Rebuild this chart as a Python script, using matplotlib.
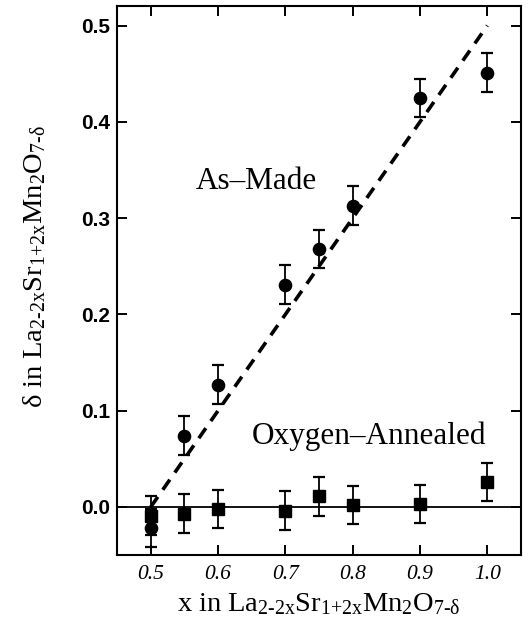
import matplotlib
matplotlib.use("Agg")
import matplotlib.pyplot as plt

plt.rcParams['mathtext.fontset'] = 'custom'
plt.rcParams['mathtext.rm'] = 'Liberation Serif'
plt.rcParams['mathtext.it'] = 'Liberation Serif:italic'
plt.rcParams['mathtext.bf'] = 'Liberation Serif:bold'

# Oxygen deficiency delta versus Sr content x
x_made = [0.50, 0.55, 0.60, 0.70, 0.75, 0.80, 0.90, 1.00]
d_made = [-0.022, 0.074, 0.127, 0.231, 0.268, 0.313, 0.425, 0.451]
e_made = [0.02, 0.02, 0.02, 0.02, 0.02, 0.02, 0.02, 0.02]

x_ann = [0.50, 0.55, 0.60, 0.70, 0.75, 0.80, 0.90, 1.00]
d_ann = [-0.009, -0.007, -0.002, -0.004, 0.011, 0.002, 0.003, 0.026]
e_ann = [0.02, 0.02, 0.02, 0.02, 0.02, 0.02, 0.02, 0.02]

# guide line delta = x - 0.5
fit_x = [0.5, 1.0]
fit_y = [0.0, 0.5]

xticks = [0.5, 0.6, 0.7, 0.8, 0.9, 1.0]
yticks = [0.0, 0.1, 0.2, 0.3, 0.4, 0.5]

formula = r'La_{\text{2-2x}}Sr_{\text{1+2x}}Mn_{\text{2}}O_{\text{7-}\delta}'

fig = plt.figure(figsize=(5.3, 6.3), dpi=100)
ax = fig.add_axes([0.221, 0.119, 0.762, 0.871])

ax.axhline(0.0, color='black', lw=1.3, zorder=1)
ax.plot(fit_x, fit_y, color='black', lw=2.6, linestyle=(0, (3.4, 2.4)), zorder=2)

ax.errorbar(x_made, d_made, yerr=e_made, fmt='o', color='black', ms=8.8,
            elinewidth=1.3, capsize=4.2, capthick=1.6, zorder=3)
ax.errorbar(x_ann, d_ann, yerr=e_ann, fmt='s', color='black', ms=8.8,
            elinewidth=1.3, capsize=4.2, capthick=1.6, zorder=4)

ax.set_xlim(0.45, 1.05)
ax.set_ylim(-0.05, 0.52)
ax.set_xticks(xticks)
ax.set_yticks(yticks)
ax.set_xticklabels([f'{v:.1f}' for v in xticks], family='Liberation Serif',
                   style='italic', fontsize=15.5)
ax.set_yticklabels([f'{v:.1f}' for v in yticks], family='Liberation Sans',
                   weight='bold', fontsize=15)

ax.tick_params(axis='both', which='major', direction='in', length=7, width=1.4,
               top=True, right=True)
ax.tick_params(axis='x', pad=7)
ax.tick_params(axis='y', pad=5)
for sp in ax.spines.values():
    sp.set_linewidth(1.5)

ax.text(0.657, 0.338, 'As\u2013Made', family='Liberation Serif', fontsize=22.5,
        ha='center', va='center')
ax.text(0.824, 0.0735, 'Oxygen\u2013Annealed', family='Liberation Serif',
        fontsize=22.5, ha='center', va='center')

ax.set_xlabel(r'$\mathrm{x\ in\ ' + formula + '}$', fontsize=20.5, labelpad=4)
ax.set_ylabel(r'$\mathrm{\delta\ in\ ' + formula + '}$', fontsize=20.5)
ax.yaxis.set_label_coords(-0.17, 0.526)

fig.savefig('out.png', dpi=100)
